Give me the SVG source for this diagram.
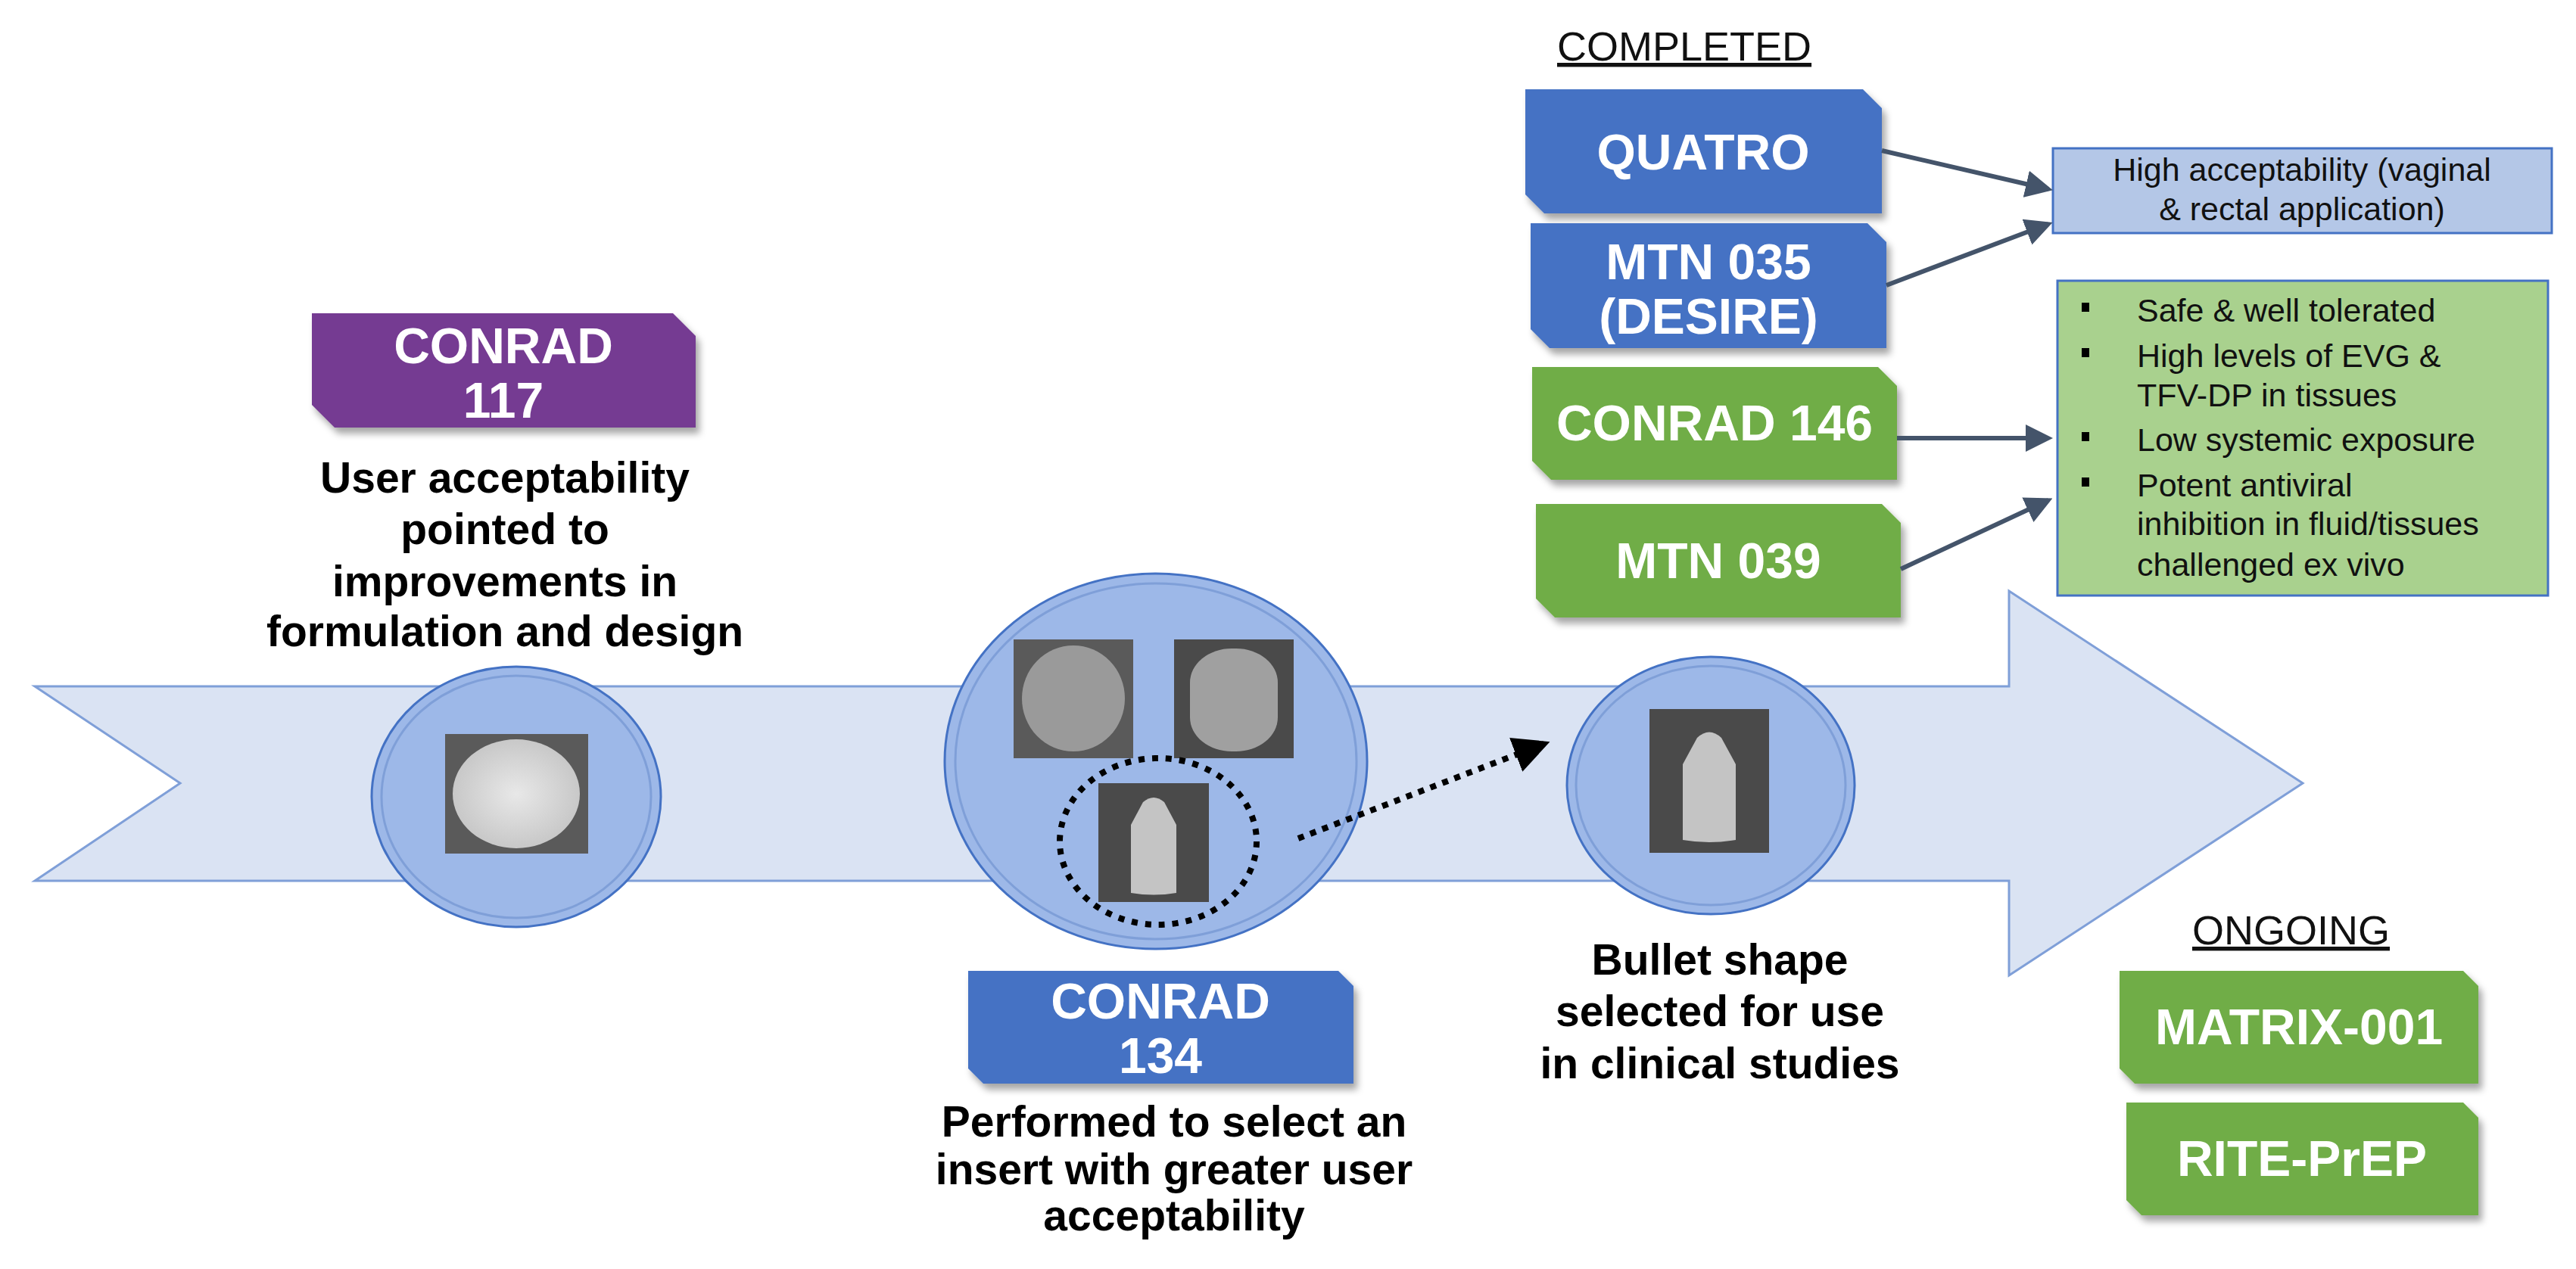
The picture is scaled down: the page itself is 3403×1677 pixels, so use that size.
<svg xmlns="http://www.w3.org/2000/svg" width="3403" height="1677" viewBox="0 0 3403 1677">
<defs>
<style>
.lbl{font-family:"Liberation Sans",Arial,sans-serif;font-weight:bold;fill:#fff;font-size:66px;text-anchor:middle}
.cap{font-family:"Liberation Sans",Arial,sans-serif;font-weight:bold;fill:#000;font-size:57px;text-anchor:middle}
.sm{font-family:"Liberation Sans",Arial,sans-serif;fill:#111;font-size:43px}
.hd{font-family:"Liberation Sans",Arial,sans-serif;fill:#111;font-size:54px;text-decoration:underline}
.circ{fill:#9DB8E8;stroke:#4472C4;stroke-width:3}
.ring{fill:none;stroke:#7F9FD8;stroke-width:3}
.con{stroke:#44546A;stroke-width:6;fill:none;marker-end:url(#ah)}
</style>
<marker id="ah" markerWidth="6" markerHeight="6" refX="5" refY="3" orient="auto" markerUnits="strokeWidth"><path d="M0,0 L6,3 L0,6 z" fill="#44546A"/></marker>
<marker id="ahk" markerWidth="6" markerHeight="6" refX="5" refY="3" orient="auto" markerUnits="strokeWidth"><path d="M0,0 L6,3 L0,6 z" fill="#000"/></marker>
<filter id="sh" x="-10%" y="-10%" width="130%" height="140%"><feDropShadow dx="5" dy="8" stdDeviation="5" flood-color="#000" flood-opacity="0.35"/></filter>
<radialGradient id="g1"><stop offset="0" stop-color="#e8e8e8"/><stop offset="1" stop-color="#c8c8c8"/></radialGradient>
</defs>

<g id="timeline-arrow">
<path d="M46,907 L2654,907 L2654,781 L3042,1035 L2654,1289 L2654,1164 L46,1164 L238,1035 Z" fill="#DAE3F3" stroke="#7F9FD8" stroke-width="3"/>
</g>

<g id="conrad117">
<path d="M412,414 L889,414 L919,444 L919,565 L442,565 L412,535 Z" fill="#753A92" filter="url(#sh)"/>
<text class="lbl" x="665" y="480">CONRAD</text>
<text class="lbl" x="665" y="552">117</text>
<text class="cap" x="667" y="651">User acceptability</text>
<text class="cap" x="667" y="719">pointed to</text>
<text class="cap" x="667" y="788">improvements in</text>
<text class="cap" x="667" y="854">formulation and design</text>
</g>

<g id="circle1">
<ellipse class="circ" cx="682" cy="1053" rx="191" ry="172"/>
<ellipse class="ring" cx="682" cy="1053" rx="178" ry="160"/>
<rect x="588" y="970" width="189" height="158" fill="#5a5a5a"/>
<ellipse cx="682" cy="1049" rx="84" ry="72" fill="url(#g1)"/>
</g>

<g id="circle2">
<ellipse class="circ" cx="1527" cy="1006" rx="279" ry="248"/>
<ellipse class="ring" cx="1527" cy="1006" rx="265" ry="235"/>
<rect x="1339" y="845" width="158" height="157" fill="#5a5a5a"/>
<ellipse cx="1418" cy="923" rx="68" ry="70" fill="#9a9a9a"/>
<rect x="1551" y="845" width="158" height="157" fill="#4a4a4a"/>
<rect x="1572" y="857" width="116" height="136" rx="55" ry="45" fill="#a0a0a0"/>
<rect x="1451" y="1035" width="146" height="157" fill="#4a4a4a"/>
<path d="M1494,1180 L1494,1090 L1510,1060 Q1524,1048 1538,1060 L1554,1090 L1554,1180 Q1524,1185 1494,1180 Z" fill="#c4c4c4"/>
<ellipse cx="1530" cy="1112" rx="130" ry="110" fill="none" stroke="#000" stroke-width="8" stroke-dasharray="8,10"/>
</g>

<g id="conrad134">
<path d="M1279,1283 L1768,1283 L1788,1303 L1788,1432 L1299,1432 L1279,1412 Z" fill="#4472C4" filter="url(#sh)"/>
<text class="lbl" x="1533" y="1346">CONRAD</text>
<text class="lbl" x="1533" y="1418">134</text>
<text class="cap" x="1551" y="1502">Performed to select an</text>
<text class="cap" x="1551" y="1565">insert with greater user</text>
<text class="cap" x="1551" y="1626">acceptability</text>
</g>

<g id="circle3">
<ellipse class="circ" cx="2260" cy="1038" rx="190" ry="170"/>
<ellipse class="ring" cx="2260" cy="1038" rx="178" ry="158"/>
<rect x="2179" y="937" width="158" height="190" fill="#4a4a4a"/>
<path d="M2223,1110 L2223,1010 L2242,975 Q2258,960 2274,975 L2293,1010 L2293,1110 Q2258,1116 2223,1110 Z" fill="#c4c4c4"/>
<text class="cap" x="2272" y="1288">Bullet shape</text>
<text class="cap" x="2272" y="1356">selected for use</text>
<text class="cap" x="2272" y="1425">in clinical studies</text>
</g>

<g id="completed">
<text class="hd" x="2057" y="80">COMPLETED</text>
</g>

<g id="quatro">
<path d="M2015,118 L2461,118 L2486,143 L2486,282 L2040,282 L2015,257 Z" fill="#4472C4" filter="url(#sh)"/>
<text class="lbl" x="2250" y="224">QUATRO</text>
</g>
<g id="mtn035">
<path d="M2022,295 L2467,295 L2492,320 L2492,460 L2047,460 L2022,435 Z" fill="#4472C4" filter="url(#sh)"/>
<text class="lbl" x="2257" y="369">MTN 035</text>
<text class="lbl" x="2257" y="441">(DESIRE)</text>
</g>
<g id="conrad146">
<path d="M2024,485 L2481,485 L2506,510 L2506,634 L2049,634 L2024,609 Z" fill="#70AD47" filter="url(#sh)"/>
<text class="lbl" x="2265" y="582">CONRAD 146</text>
</g>
<g id="mtn039">
<path d="M2029,666 L2486,666 L2511,691 L2511,816 L2054,816 L2029,791 Z" fill="#70AD47" filter="url(#sh)"/>
<text class="lbl" x="2270" y="764">MTN 039</text>
</g>

<g id="high-acceptability">
<rect x="2712" y="196" width="659" height="112" fill="#B4C7E7" stroke="#4472C4" stroke-width="3"/>
<text class="sm" x="3041" y="239" text-anchor="middle">High acceptability (vaginal</text>
<text class="sm" x="3041" y="291" text-anchor="middle">&amp; rectal application)</text>
</g>

<g id="results">
<rect x="2718" y="371" width="648" height="416" fill="#A9D18E" stroke="#4472C4" stroke-width="3"/>
<g class="sm">
<rect x="2750" y="400" width="10" height="12" fill="#000"/>
<rect x="2750" y="460" width="10" height="12" fill="#000"/>
<rect x="2750" y="571" width="10" height="12" fill="#000"/>
<rect x="2750" y="631" width="10" height="12" fill="#000"/>
<text x="2823" y="425">Safe &amp; well tolerated</text>
<text x="2823" y="485">High levels of EVG &amp;</text>
<text x="2823" y="537">TFV-DP in tissues</text>
<text x="2823" y="596">Low systemic exposure</text>
<text x="2823" y="656">Potent antiviral</text>
<text x="2823" y="707">inhibition in fluid/tissues</text>
<text x="2823" y="761">challenged ex vivo</text>
</g>
</g>

<g id="ongoing">
<text class="hd" x="2896" y="1248">ONGOING</text>
</g>
<g id="matrix001">
<path d="M2800,1283 L3254,1283 L3274,1303 L3274,1432 L2820,1432 L2800,1412 Z" fill="#70AD47" filter="url(#sh)"/>
<text class="lbl" x="3037" y="1380">MATRIX-001</text>
</g>
<g id="riteprep">
<path d="M2809,1457 L3254,1457 L3274,1477 L3274,1606 L2829,1606 L2809,1586 Z" fill="#70AD47" filter="url(#sh)"/>
<text class="lbl" x="3041" y="1554">RITE-PrEP</text>
</g>

<g id="connectors">
<line class="con" x1="2486" y1="199" x2="2706" y2="250"/>
<line class="con" x1="2492" y1="377" x2="2706" y2="296"/>
<line class="con" x1="2506" y1="579" x2="2706" y2="579"/>
<line class="con" x1="2511" y1="752" x2="2706" y2="661"/>
<line x1="1715" y1="1108" x2="2040" y2="983" stroke="#000" stroke-width="8" stroke-dasharray="8,9" marker-end="url(#ahk)"/>
</g>
</svg>
